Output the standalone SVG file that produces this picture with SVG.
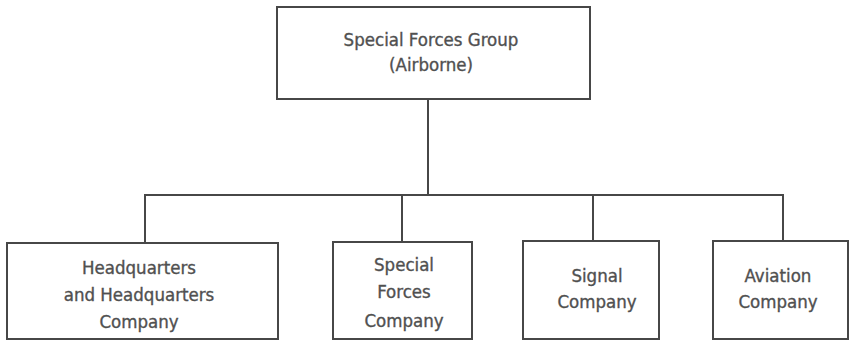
<svg xmlns="http://www.w3.org/2000/svg" width="850" height="342" viewBox="0 0 850 342">
<style>
.box{fill:#ffffff;stroke:#474747;stroke-width:2}
.conn{fill:none;stroke:#474747;stroke-width:2}
text{font-family:"DejaVu Sans Condensed","DejaVu Sans",sans-serif;font-size:18.5px;fill:#505050;stroke:#505050;stroke-width:0.35;text-anchor:middle}
</style>
<rect width="850" height="342" fill="#ffffff"/>
<g id="connectors">
<path class="conn" d="M428 99 V195 M145 243 V195 H783 V241 M402 195 V242 M593 195 V241"/>
</g>
<g id="group">
<rect class="box" x="277" y="7" width="313" height="92"/>
<text x="431" y="46">Special Forces Group</text>
<text x="431" y="71">(Airborne)</text>
</g>
<g id="hq">
<rect class="box" x="7" y="243" width="271" height="96"/>
<text x="139" y="274">Headquarters</text>
<text x="139" y="301">and Headquarters</text>
<text x="139" y="328">Company</text>
</g>
<g id="sfc">
<rect class="box" x="333" y="242" width="139" height="97"/>
<text x="404" y="271">Special</text>
<text x="404" y="298">Forces</text>
<text x="404" y="327">Company</text>
</g>
<g id="signal">
<rect class="box" x="523" y="241" width="136" height="98"/>
<text x="597" y="282">Signal</text>
<text x="597" y="308">Company</text>
</g>
<g id="aviation">
<rect class="box" x="713" y="241" width="135" height="98"/>
<text x="778" y="282">Aviation</text>
<text x="778" y="308">Company</text>
</g>
</svg>
